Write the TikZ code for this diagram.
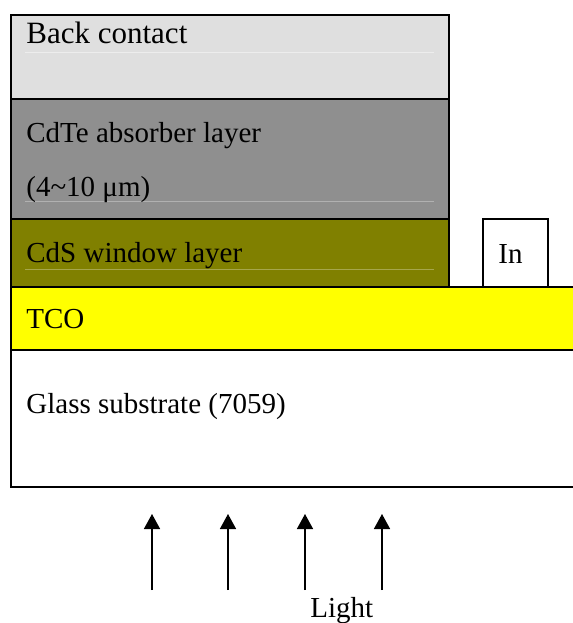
\documentclass[tikz,border=0pt]{standalone}
\usepackage{fontspec}
\setmainfont{Liberation Serif}
\usetikzlibrary{positioning, arrows.meta}
\definecolor{backgray}{HTML}{DFDFDF}
\definecolor{cdtegray}{HTML}{8F8F8F}
\definecolor{cdsolive}{HTML}{808000}
\definecolor{tcoyellow}{HTML}{FFFF00}

\begin{document}
\begin{tikzpicture}[x=0.5pt, y=-0.5pt,
    layer/.style={rectangle, draw, line width=1pt, inner sep=0pt, outer sep=0pt, minimum width=219pt, anchor=north west},
    lbl/.style={inner sep=0pt, anchor=base west, font=\fontsize{14.5}{17}\selectfont},
    faint/.style={line width=0.5pt},
    ray/.style={draw, line width=0.75pt, -{Triangle[width=8pt, length=7.5pt]}}
]
    \path[use as bounding box, clip] (0,0) rectangle (573,623);

    % Layer stack
    \node [layer, fill=backgray, minimum height=42pt] (back) at (11,15) {};
    \node [layer, fill=cdtegray, minimum height=60pt, below=0pt of back] (cdte) {};
    \node [layer, fill=cdsolive, minimum height=34pt, below=0pt of cdte] (cds) {};
    \node [layer, fill=tcoyellow, minimum width=290pt, minimum height=31.5pt, below right=0pt and 0pt of cds.south west] (tco) {};
    \node [layer, fill=white, minimum width=290pt, minimum height=68.5pt, below=0pt of tco] (glass) {};

    % Indium contact
    \node [layer, fill=white, minimum width=32.5pt, minimum height=34pt, anchor=south west] (indium) at (483,287) {};

    % Faint rules under the text
    \draw [faint, backgray!55!white] (25,52) -- (434,52);
    \draw [faint, cdtegray!70!white] (25,201) -- (434,201);
    \draw [faint, cdsolive!70!white] (25,269) -- (434,269);

    % Layer labels
    \node [lbl, font=\fontsize{15.5}{18}\selectfont] (backlbl) at (26,43) {Back contact};
    \node [lbl] (cdtelbl) at (26,142) {CdTe absorber layer};
    \node [lbl] (thicklbl) at (26,196) {(4\textasciitilde10 μm)};
    \node [lbl] (cdslbl) at (26,262) {CdS window layer};
    \node [lbl] (tcolbl) at (26,328) {TCO};
    \node [lbl] (glasslbl) at (26,413) {Glass substrate (7059)};
    \node [lbl] (inlbl) at (498,263) {In};

    % Incoming light
    \coordinate (ray1s) at (152,590);
    \coordinate (ray1e) at (152,514);
    \coordinate (ray2s) at (228,590);
    \coordinate (ray2e) at (228,514);
    \coordinate (ray3s) at (305,590);
    \coordinate (ray3e) at (305,514);
    \coordinate (ray4s) at (382,590);
    \coordinate (ray4e) at (382,514);
    \path [ray] (ray1s) -- (ray1e);
    \path [ray] (ray2s) -- (ray2e);
    \path [ray] (ray3s) -- (ray3e);
    \path [ray] (ray4s) -- (ray4e);
    \node [lbl] (lightlbl) at (310,617) {Light};

\end{tikzpicture}
\end{document}
